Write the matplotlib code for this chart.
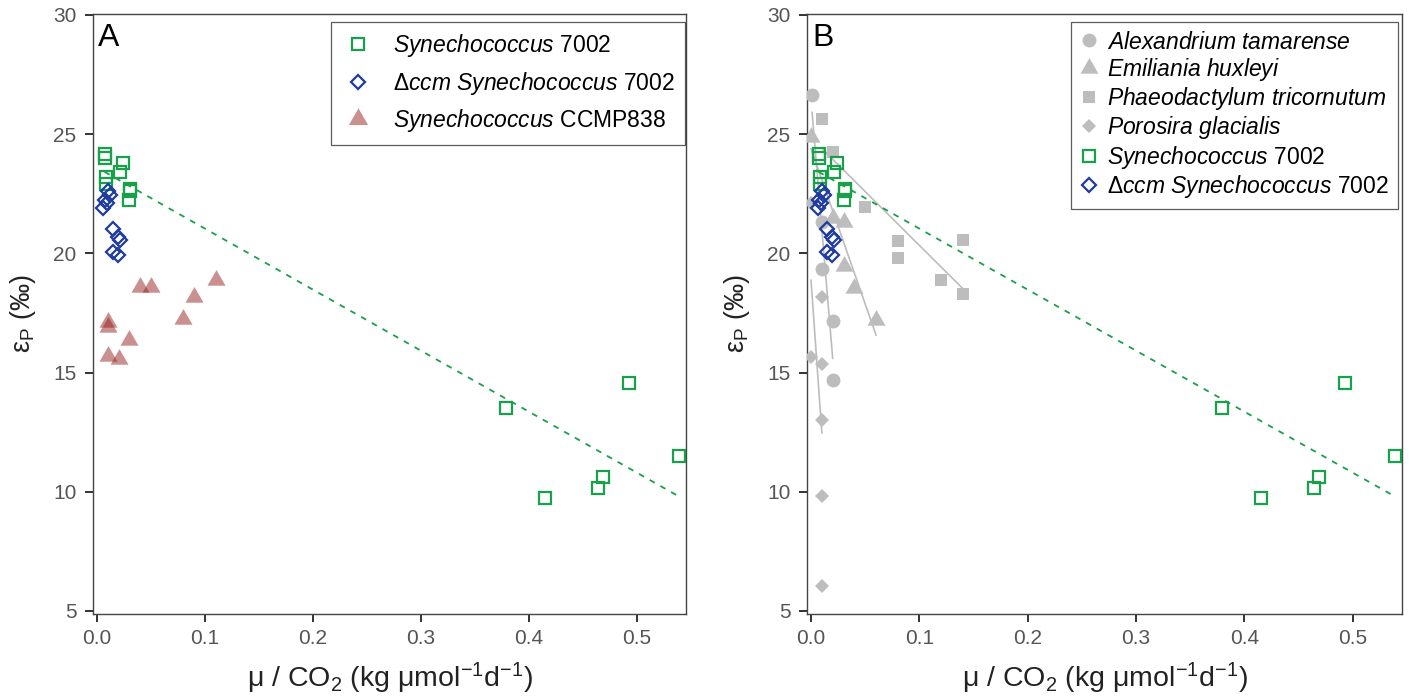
import numpy as np
import matplotlib
matplotlib.use("Agg")
import matplotlib.pyplot as plt
from matplotlib.lines import Line2D
from matplotlib.path import Path

plt.rcParams['font.family'] = ['Liberation Sans', 'DejaVu Sans']
plt.rcParams['mathtext.fontset'] = 'custom'
plt.rcParams['mathtext.rm'] = 'Liberation Sans'
plt.rcParams['mathtext.it'] = 'Liberation Sans:italic'
plt.rcParams['mathtext.bf'] = 'Liberation Sans:bold'

# ---------------- data ----------------
syn7002_x = [0.007, 0.007, 0.024, 0.021, 0.008, 0.008, 0.031, 0.031, 0.030,
             0.493, 0.379, 0.539, 0.469, 0.464, 0.415]
syn7002_y = [24.15, 24.0, 23.8, 23.4, 23.2, 22.9, 22.7, 22.6, 22.25,
             14.55, 13.5, 11.5, 10.6, 10.15, 9.75]

ccm_x = [0.010, 0.012, 0.007, 0.009, 0.006, 0.015, 0.019, 0.021, 0.015, 0.019]
ccm_y = [22.6, 22.45, 22.25, 22.1, 21.9, 21.0, 20.7, 20.55, 20.05, 19.95]

ccmp838_x = [0.04, 0.05, 0.11, 0.09, 0.08, 0.01, 0.01, 0.03, 0.01, 0.02]
ccmp838_y = [18.6, 18.6, 18.9, 18.15, 17.25, 17.1, 16.9, 16.35, 15.7, 15.55]

alex_x = [0.001, 0.01, 0.01, 0.02, 0.02]
alex_y = [26.65, 21.3, 19.35, 17.15, 14.7]

emil_x = [0.0, 0.02, 0.03, 0.03, 0.04, 0.06]
emil_y = [24.9, 21.5, 21.3, 19.45, 18.55, 17.2]

phaeo_x = [0.01, 0.02, 0.05, 0.08, 0.08, 0.12, 0.14, 0.14]
phaeo_y = [25.65, 24.25, 21.95, 20.5, 19.8, 18.9, 20.55, 18.3]

poro_x = [0.0, 0.0, 0.01, 0.01, 0.01, 0.01, 0.01]
poro_y = [22.1, 15.65, 18.15, 15.35, 13.0, 9.8, 6.05]

x_ticks = [0.0, 0.1, 0.2, 0.3, 0.4, 0.5]
y_ticks = [5, 10, 15, 20, 25, 30]

# ---------------- styles ----------------
GREEN = '#19a04b'
BLUE = '#1f3c9f'
RED = '#962020'
GREY = '#bdbdbd'
tri = Path([(-1, -0.577), (1, -0.577), (0, 1.155), (-1, -0.577)],
           [Path.MOVETO, Path.LINETO, Path.LINETO, Path.CLOSEPOLY])

W, H = 1411, 700
fig = plt.figure(figsize=(W / 100, H / 100), dpi=100)
axA = fig.add_axes([93 / W, 1 - 614 / H, 593 / W, 600 / H])
axB = fig.add_axes([807 / W, 1 - 614 / H, 595 / W, 600 / H])


def fitline(ax, x, y, **kw):
    x = np.asarray(x, float)
    y = np.asarray(y, float)
    b, a = np.polyfit(x, y, 1)
    xs = np.array([x.min(), x.max()])
    ax.plot(xs, a + b * xs, **kw)


def style(ax, letter):
    ax.set_xlim(-0.0037, 0.5455)
    ax.set_ylim(4.87, 30.04)
    ax.set_xticks(x_ticks)
    ax.set_xticklabels([f'{t:.1f}' for t in x_ticks])
    ax.set_yticks(y_ticks)
    ax.set_yticklabels([str(t) for t in y_ticks])
    for s in ax.spines.values():
        s.set_color('#444444')
        s.set_linewidth(1.0)
    ax.tick_params(length=5.8, width=1.4, color='#333333', labelsize=15,
                   labelcolor='#555555')
    ax.tick_params(axis='y', pad=6)
    ax.tick_params(axis='x', pad=5)
    ax.set_xlabel(r'μ / CO$_2$ (kg μmol$^{-1}$d$^{-1}$)', fontsize=20.5,
                  color='#222222', labelpad=9)
    ax.set_ylabel(r'ε$_\mathregular{P}$ (‰)', fontsize=19.5, color='#222222',
                  labelpad=11)
    ax.text(0.009, 0.985, letter, transform=ax.transAxes, ha='left', va='top',
            fontsize=23, color='black')


sq_kw = dict(marker='s', ms=8.3, mfc='none', mec=GREEN, mew=1.6, ls='none')
di_kw = dict(marker='D', ms=7.4, mfc='none', mec=BLUE, mew=1.6, ls='none')
dash_kw = dict(color=GREEN, lw=1.3, dashes=(3.2, 3.6))
LFS = 16.5

# ---------------- panel A ----------------
fitline(axA, syn7002_x, syn7002_y, zorder=2, **dash_kw)
axA.plot(syn7002_x, syn7002_y, zorder=3, **sq_kw)
axA.plot(ccm_x, ccm_y, zorder=3, **di_kw)
axA.plot(ccmp838_x, ccmp838_y, marker=tri, ms=15, color=RED, alpha=0.5,
         mew=0, ls='none', zorder=3)
style(axA, 'A')

hA = [Line2D([], [], **sq_kw), Line2D([], [], **di_kw),
      Line2D([], [], marker=tri, ms=16, color=RED, alpha=0.5, mew=0, ls='none')]
lA = [r'$\it{Synechococcus}$ 7002', r'Δ$\it{ccm}$ $\it{Synechococcus}$ 7002',
      r'$\it{Synechococcus}$ CCMP838']
legA = axA.legend(hA, lA, loc='upper right', bbox_to_anchor=(0.998, 0.987),
                  borderaxespad=0, fontsize=LFS, frameon=True, fancybox=False,
                  edgecolor='#333333', labelspacing=0.46, handlelength=1.5,
                  handletextpad=0.75, borderpad=0.45)
legA.get_frame().set_linewidth(0.9)

# ---------------- panel B ----------------
gl = dict(color=GREY, lw=1.2, zorder=2)
fitline(axB, alex_x, alex_y, **gl)
fitline(axB, emil_x, emil_y, **gl)
fitline(axB, phaeo_x, phaeo_y, **gl)
fitline(axB, poro_x, poro_y, **gl)
gp = dict(color=GREY, ls='none', mew=0, zorder=3)
axB.plot(alex_x, alex_y, marker='o', ms=10, **gp)
axB.plot(emil_x, emil_y, marker=tri, ms=15, **gp)
axB.plot(phaeo_x, phaeo_y, marker='s', ms=9, **gp)
axB.plot(poro_x, poro_y, marker='D', ms=7.5, **gp)
fitline(axB, syn7002_x, syn7002_y, zorder=4, **dash_kw)
axB.plot(syn7002_x, syn7002_y, zorder=5, **sq_kw)
axB.plot(ccm_x, ccm_y, zorder=5, **di_kw)
style(axB, 'B')

hB = [Line2D([], [], marker='o', ms=10, color=GREY, ls='none', mew=0),
      Line2D([], [], marker=tri, ms=15, color=GREY, ls='none', mew=0),
      Line2D([], [], marker='s', ms=9, color=GREY, ls='none', mew=0),
      Line2D([], [], marker='D', ms=7.5, color=GREY, ls='none', mew=0),
      Line2D([], [], **sq_kw), Line2D([], [], **di_kw)]
lB = [r'$\it{Alexandrium\ tamarense}$', r'$\it{Emiliania\ huxleyi}$',
      r'$\it{Phaeodactylum\ tricornutum}$', r'$\it{Porosira\ glacialis}$',
      r'$\it{Synechococcus}$ 7002', r'Δ$\it{ccm}$ $\it{Synechococcus}$ 7002']
legB = axB.legend(hB, lB, loc='upper right', bbox_to_anchor=(0.993, 0.987),
                  borderaxespad=0, fontsize=LFS, frameon=True, fancybox=False,
                  edgecolor='#333333', labelspacing=0.1, handlelength=0.8,
                  handletextpad=0.4, borderpad=0.38)
legB.get_frame().set_linewidth(0.9)

fig.savefig('out.png', dpi=100)
